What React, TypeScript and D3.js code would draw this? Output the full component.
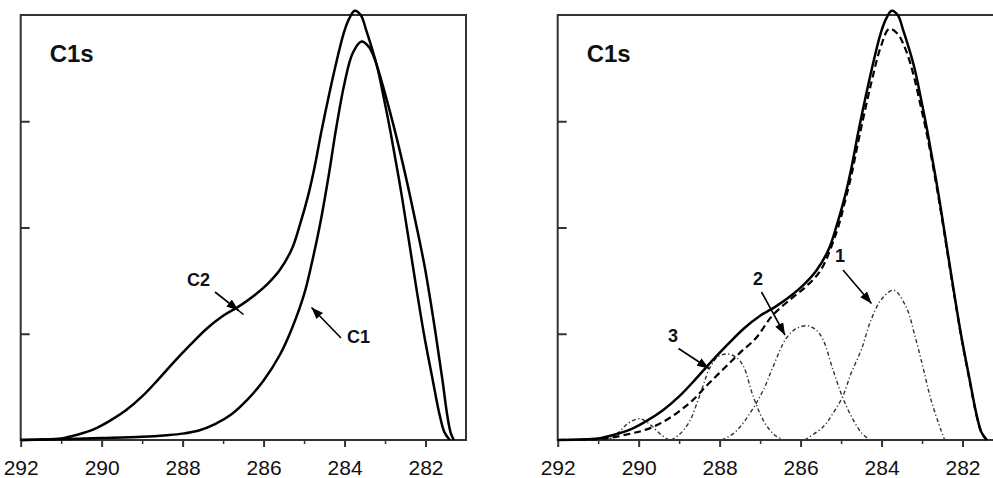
import React, { useEffect, useRef } from "react";
import * as d3 from "d3";

// binding energy axis (eV)
const xMajor = [292, 290, 288, 286, 284, 282];
const xMinor = [291, 289, 287, 285, 283];
const yTicks = [1, 2, 3];

// left panel: C1 and C2 spectra, [eV, intensity]
const c1 = [
  [292, 0], [291, 0.008], [290, 0.018], [289, 0.03], [288.4, 0.045], [288, 0.06],
  [287.6, 0.09], [287.2, 0.15], [286.8, 0.24], [286.4, 0.38], [286.0, 0.56],
  [285.6, 0.8], [285.3, 1.05], [285.0, 1.37], [284.8, 1.68], [284.6, 2.04],
  [284.4, 2.47], [284.2, 2.95], [284.0, 3.36], [283.8, 3.64], [283.58, 3.75],
  [283.4, 3.7], [283.25, 3.58], [283.0, 3.26], [282.75, 2.9], [282.5, 2.5],
  [282.25, 2.06], [282.02, 1.63], [281.75, 1.0], [281.58, 0.56], [281.47, 0.25],
  [281.38, 0.07], [281.3, 0],
];
const c2 = [
  [292, 0], [291.5, 0.004], [291, 0.015], [290.6, 0.05], [290.2, 0.1], [289.8, 0.18],
  [289.4, 0.28], [289.0, 0.41], [288.6, 0.57], [288.2, 0.74], [287.8, 0.9],
  [287.4, 1.05], [287.0, 1.17], [286.6, 1.26], [286.2, 1.37], [285.9, 1.47],
  [285.6, 1.6], [285.3, 1.8], [285.1, 2.03], [284.9, 2.3], [284.74, 2.57],
  [284.58, 2.89], [284.41, 3.2], [284.23, 3.51], [284.02, 3.83], [283.88, 3.97],
  [283.75, 4.04], [283.6, 4.0], [283.46, 3.85], [283.2, 3.52], [283.02, 3.2],
  [282.86, 2.89], [282.57, 2.26], [282.31, 1.63], [282.04, 1.0], [281.82, 0.56],
  [281.66, 0.25], [281.53, 0.07], [281.4, 0],
];

// right panel: fit of C2 (sum + components)
const fitSum = [
  [292, 0], [291.4, 0.004], [290.8, 0.016], [290.2, 0.06], [289.8, 0.1], [289.4, 0.17],
  [289.0, 0.27], [288.65, 0.38], [288.3, 0.52], [287.9, 0.67], [287.5, 0.82],
  [287.1, 0.96], [286.7, 1.17], [286.2, 1.34], [285.85, 1.45], [285.5, 1.6],
  [285.1, 1.97], [284.9, 2.25], [284.74, 2.5], [284.58, 2.8], [284.41, 3.1],
  [284.23, 3.4], [284.02, 3.7], [283.81, 3.87], [283.6, 3.82], [283.4, 3.67],
  [283.2, 3.42], [283.02, 3.12], [282.86, 2.84], [282.57, 2.23], [282.31, 1.61],
  [282.04, 0.99], [281.82, 0.55], [281.66, 0.24], [281.53, 0.07], [281.4, 0],
];
const peak1 = [
  [285.9, 0], [285.44, 0.125], [285.2, 0.25], [284.96, 0.41], [284.75, 0.63],
  [284.5, 0.85], [284.26, 1.13], [284.01, 1.32], [283.7, 1.41], [283.39, 1.25],
  [283.19, 1.0], [282.98, 0.69], [282.78, 0.38], [282.53, 0.09], [282.44, 0],
];
const peak2 = [
  [287.95, 0], [287.66, 0.06], [287.42, 0.16], [287.17, 0.3], [286.92, 0.47],
  [286.68, 0.69], [286.35, 0.96], [286.1, 1.05], [285.81, 1.075], [285.6, 1.03],
  [285.44, 0.94], [285.2, 0.66], [284.95, 0.39], [284.7, 0.19], [284.5, 0.07], [284.3, 0],
];
const peak3 = [
  [289.2, 0], [289.0, 0.05], [288.75, 0.17], [288.5, 0.41], [288.24, 0.68],
  [288.05, 0.78], [287.83, 0.81], [287.6, 0.78], [287.42, 0.7], [287.17, 0.41],
  [286.9, 0.17], [286.65, 0.05], [286.43, 0],
];
const peak4 = [
  [290.75, 0], [290.5, 0.07], [290.25, 0.16], [289.97, 0.2], [289.7, 0.14],
  [289.45, 0.05], [289.25, 0],
];

const App = () => {
  const ref = useRef<SVGSVGElement>(null);

  useEffect(() => {
    const svg = d3.select(ref.current);
    svg.selectAll("*").remove();

    svg
      .append("defs")
      .append("marker")
      .attr("id", "head")
      .attr("markerUnits", "userSpaceOnUse")
      .attr("markerWidth", 13)
      .attr("markerHeight", 10)
      .attr("refX", 12)
      .attr("refY", 4.5)
      .attr("orient", "auto")
      .append("path")
      .attr("d", "M0,0 L12,4.5 L0,9 Z")
      .attr("fill", "#000");

    const y = d3.scaleLinear().domain([0, 4]).range([440, 15]);
    const width = 445.3;

    const panel = (left: number) => {
      const x = d3.scaleLinear().domain([292, 281]).range([left, left + width]);
      const g = svg.append("g");

      g.append("rect")
        .attr("x", left)
        .attr("y", 15)
        .attr("width", width)
        .attr("height", 425)
        .attr("fill", "none")
        .attr("stroke", "#333")
        .attr("stroke-width", 2);

      const major = g
        .append("g")
        .attr("transform", "translate(0,440)")
        .call(d3.axisBottom(x).tickValues(xMajor).tickSize(7).tickPadding(13).tickFormat(d3.format("d")));
      major.select(".domain").remove();
      major.selectAll("line").attr("stroke", "#333").attr("stroke-width", 2);
      major
        .selectAll("text")
        .style("font-family", "Arial, 'Liberation Sans', sans-serif")
        .style("font-size", "21px")
        .attr("fill", "#111");

      const minor = g
        .append("g")
        .attr("transform", "translate(0,440)")
        .call(d3.axisBottom(x).tickValues(xMinor).tickSize(4).tickFormat(() => ""));
      minor.select(".domain").remove();
      minor.selectAll("line").attr("stroke", "#333").attr("stroke-width", 1.5);

      const yl = g
        .append("g")
        .attr("transform", `translate(${left},0)`)
        .call(d3.axisLeft(y).tickValues(yTicks).tickSize(-9).tickFormat(() => ""));
      yl.select(".domain").remove();
      yl.selectAll("line").attr("stroke", "#333").attr("stroke-width", 2);

      g.append("text")
        .attr("x", left + 29)
        .attr("y", 62)
        .style("font-family", "Arial, 'Liberation Sans', sans-serif")
        .style("font-size", "24px")
        .style("font-weight", "bold")
        .attr("fill", "#111")
        .text("C1s");

      const line = d3
        .line<number[]>()
        .x((d) => x(d[0]))
        .y((d) => y(d[1]))
        .curve(d3.curveCatmullRom.alpha(0.5));

      return { g, line };
    };

    const label = (tx: number, ty: number, s: string) =>
      svg
        .append("text")
        .attr("x", tx)
        .attr("y", ty)
        .style("font-family", "Arial, 'Liberation Sans', sans-serif")
        .style("font-size", "18px")
        .style("font-weight", "bold")
        .attr("fill", "#111")
        .text(s);

    const arrow = (x1: number, y1: number, x2: number, y2: number) =>
      svg
        .append("line")
        .attr("x1", x1)
        .attr("y1", y1)
        .attr("x2", x2)
        .attr("y2", y2)
        .attr("stroke", "#000")
        .attr("stroke-width", 1.6)
        .attr("marker-end", "url(#head)");

    // left panel
    const a = panel(20.7);
    [c1, c2].forEach((s) =>
      a.g
        .append("path")
        .attr("d", a.line(s))
        .attr("fill", "none")
        .attr("stroke", "#000")
        .attr("stroke-width", 2.5)
    );

    // right panel
    const b = panel(557.7);
    [peak4, peak3, peak2, peak1].forEach((s) =>
      b.g
        .append("path")
        .attr("d", b.line(s))
        .attr("fill", "none")
        .attr("stroke", "#333")
        .attr("stroke-width", 1.4)
        .attr("stroke-dasharray", "4,2.5,1.2,2.5")
    );
    b.g
      .append("path")
      .attr("d", b.line(fitSum))
      .attr("fill", "none")
      .attr("stroke", "#000")
      .attr("stroke-width", 2.2)
      .attr("stroke-dasharray", "7,4");
    b.g
      .append("path")
      .attr("d", b.line(c2))
      .attr("fill", "none")
      .attr("stroke", "#000")
      .attr("stroke-width", 2.5);

    // annotations
    label(187, 286, "C2");
    arrow(215, 292, 238.5, 310.5);
    svg
      .append("line")
      .attr("x1", 236)
      .attr("y1", 308.5)
      .attr("x2", 243.5)
      .attr("y2", 314.5)
      .attr("stroke", "#000")
      .attr("stroke-width", 1.6);
    label(347, 343, "C1");
    arrow(341, 338, 311.5, 307.5);

    label(835, 262, "1");
    arrow(843, 270, 871.5, 303.5);
    label(753, 285, "2");
    arrow(761.5, 292, 785, 335);
    label(668, 342, "3");
    arrow(678.5, 348.5, 709, 368.5);
  }, []);

  return (
    <svg
      ref={ref}
      width={993}
      height={478}
      style={{ position: "absolute", left: 0, top: 0, background: "#fff" }}
    />
  );
};

export default App;
